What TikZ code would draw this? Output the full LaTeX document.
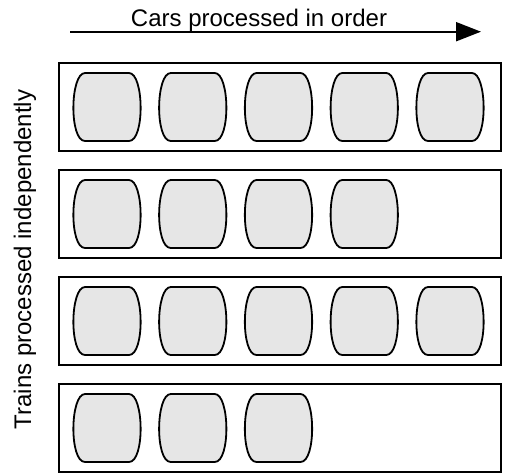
\documentclass[tikz,border=0pt]{standalone}
\usepackage{fontspec}
\setmainfont{Liberation Sans}
\usetikzlibrary{arrows.meta}
\definecolor{carfill}{HTML}{E6E6E6}
\tikzset{
  rowbox/.style={draw=black, line width=1.8pt, minimum width=442pt, minimum height=88pt, inner sep=0pt},
  carline/.style={draw=black, fill=carfill, line width=1.8pt, line join=round},
  car/.pic={\path[carline] (-22,-34) -- (22,-34) .. controls (37,-34) and (38,34) .. (22,34) -- (-22,34) .. controls (-38,34) and (-37,-34) .. (-22,-34) -- cycle;},
  label/.style={font=\fontsize{24}{28}\selectfont, inner sep=0pt},
  flow/.style={line width=2pt, -{Triangle[length=25pt, width=19pt]}}
}
\begin{document}
\begin{tikzpicture}[x=1pt, y=-1pt]
\useasboundingbox (0,0) rectangle (506,472);
% title and arrow
\node[label, anchor=base] (title) at (259,26) {Cars processed in order};
\coordinate (astart) at (70,31.7);
\coordinate (aend) at (481,31.7);
\draw[flow] (astart) -- (aend);
% side label
\node[label, anchor=base, rotate=90] (side) at (31,259.5) {Trains processed independently};
% rows
\foreach \r/\cy/\n in {1/107/5, 2/214/4, 3/321/5, 4/428/3} {
  \node[rowbox] (row\r) at (280,\cy) {};
  \foreach \c in {1,...,\n} {
    \pic at ({107+85.75*(\c-1)},\cy) {car};
  }
}
\end{tikzpicture}
\end{document}
